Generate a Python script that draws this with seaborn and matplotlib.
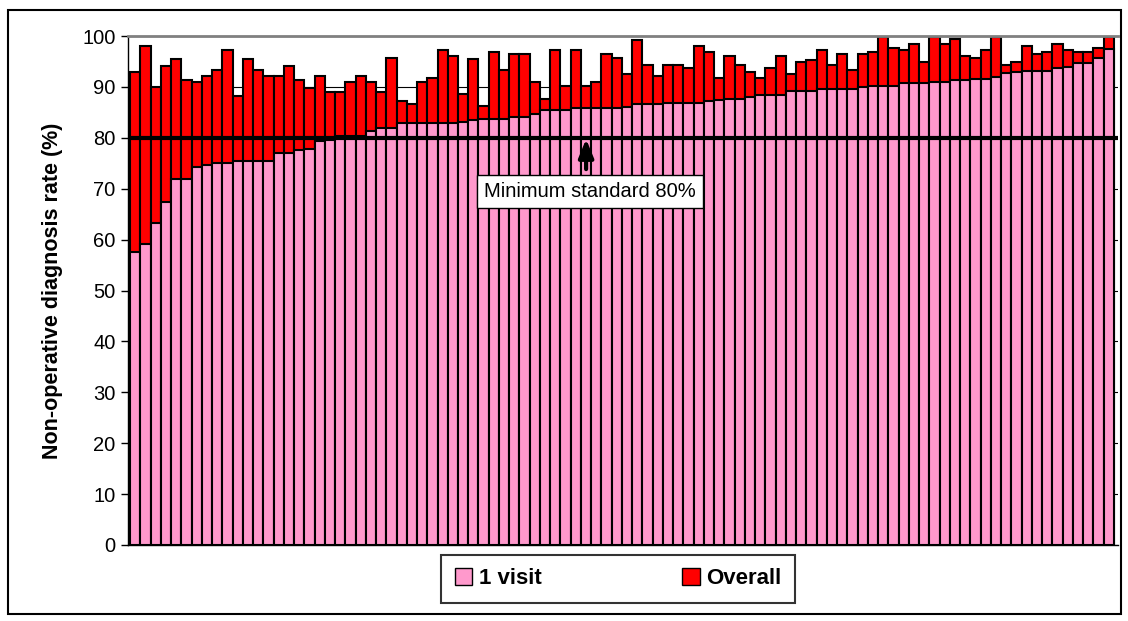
import numpy as np
import pandas as pd
import seaborn as sns
import matplotlib.pyplot as plt
from matplotlib.patches import Rectangle, Patch

sns.set_style('white')
plt.rcParams['font.family'] = ['Liberation Sans', 'DejaVu Sans']
plt.rcParams['text.color'] = 'black'
plt.rcParams['axes.labelcolor'] = 'black'
plt.rcParams['ytick.color'] = 'black'

# 1 visit rate per unit (%), sorted ascending
visit = [57.5, 59.2, 63.3, 67.3, 72.0, 72.0, 74.3, 74.7, 75.1, 75.1,
         75.5, 75.5, 75.5, 75.5, 77.1, 77.1, 77.6, 77.8, 79.4, 79.6,
         80.4, 80.4, 80.4, 81.4, 82.0, 82.0, 82.9, 82.9, 82.9, 82.9,
         82.9, 82.9, 83.2, 83.5, 83.7, 83.7, 83.7, 84.1, 84.1, 84.6,
         85.4, 85.4, 85.4, 85.8, 85.8, 85.8, 85.8, 85.9, 86.1, 86.6,
         86.6, 86.6, 86.9, 86.9, 86.9, 86.9, 87.3, 87.4, 87.6, 87.6,
         88.1, 88.4, 88.4, 88.4, 89.2, 89.2, 89.2, 89.5, 89.5, 89.5,
         89.5, 90.0, 90.2, 90.2, 90.2, 90.8, 90.8, 90.8, 91.0, 91.0,
         91.3, 91.3, 91.6, 91.6, 92.0, 92.7, 92.9, 93.1, 93.1, 93.1,
         93.7, 94.0, 94.7, 94.7, 95.6, 97.5]

# overall rate per unit (%)
overall = [92.9, 98.0, 89.9, 94.1, 95.4, 91.3, 90.9, 92.2, 93.3, 97.2,
           88.2, 95.4, 93.3, 92.1, 92.1, 94.1, 91.3, 89.7, 92.1, 88.9,
           88.9, 90.9, 92.1, 90.9, 88.9, 95.6, 87.3, 86.6, 90.9, 91.8,
           97.3, 96.0, 88.6, 95.4, 86.2, 96.8, 93.3, 96.4, 96.4, 90.9,
           87.6, 97.3, 90.1, 97.3, 90.1, 90.9, 96.4, 95.6, 92.5, 99.2,
           94.4, 92.1, 94.4, 94.4, 93.7, 98.0, 96.8, 91.7, 96.0, 94.4,
           92.9, 91.7, 93.7, 96.0, 92.5, 94.8, 95.2, 97.3, 94.4, 96.4,
           93.3, 96.4, 96.8, 99.9, 97.6, 97.2, 98.4, 94.8, 99.9, 98.4,
           99.5, 96.0, 95.6, 97.2, 99.9, 94.4, 94.8, 98.0, 96.4, 96.8,
           98.4, 97.2, 96.8, 96.8, 97.6, 99.9]

standard = 80
yticks = list(range(0, 101, 10))

df = pd.DataFrame({'unit': np.arange(len(visit)), 'visit': visit, 'overall': overall})

PINK = '#FF99CC'
RED = '#FF0000'

fig = plt.figure(figsize=(11.28, 6.21), dpi=100)
ax = fig.add_axes([128 / 1128, 76 / 621, 990 / 1128, 509 / 621])

# overlapping bars: overall behind, 1 visit in front
sns.barplot(data=df, x='unit', y='overall', color=RED, saturation=1, width=1.0,
            edgecolor='black', linewidth=1.5, ax=ax, zorder=2)
sns.barplot(data=df, x='unit', y='visit', color=PINK, saturation=1, width=1.0,
            edgecolor='black', linewidth=1.5, ax=ax, zorder=2)

ax.set_xlim(-0.7, len(visit) - 0.1)
ax.set_ylim(0, 100)
ax.set_yticks(yticks)
ax.set_xticks([])
ax.set_xlabel('')
ax.set_ylabel('Non-operative diagnosis rate (%)', fontsize=15.5, fontweight='bold', labelpad=14)
ax.tick_params(axis='y', labelsize=14.5, direction='out', length=5, width=1, left=True, pad=4,
               colors='black')

ax.yaxis.grid(True, color='black', linewidth=0.8, zorder=0)
ax.set_axisbelow(True)
for s in ['left', 'bottom']:
    ax.spines[s].set_color('black')
    ax.spines[s].set_linewidth(1)
ax.spines['right'].set_visible(False)
ax.spines['top'].set_color('#808080')
ax.spines['top'].set_linewidth(2)

# minimum standard line + annotation
ax.axhline(standard, color='black', linewidth=3, zorder=4)
ax.annotate('', xy=(44, standard + 0.3), xytext=(44, 73.3),
            arrowprops=dict(arrowstyle='-|>,head_length=1.1,head_width=0.45',
                            color='black', lw=3), zorder=5)
ax.text(44.4, 69.4, 'Minimum standard 80%', ha='center', va='center', fontsize=14.5,
        color='black',
        bbox=dict(boxstyle='square,pad=0.35', fc='white', ec='black', lw=1), zorder=6)

handles = [Patch(facecolor=PINK, edgecolor='black', linewidth=1),
           Patch(facecolor=RED, edgecolor='black', linewidth=1)]
leg = fig.legend(handles, ['1 visit', 'Overall'], loc='center', bbox_to_anchor=(0.548, 0.068),
                 ncol=2, frameon=True, fancybox=False, edgecolor='black',
                 prop={'weight': 'bold', 'size': 16}, handlelength=0.8, handleheight=0.8,
                 handletextpad=0.3, columnspacing=6.3, borderpad=0.6, borderaxespad=0)
leg.get_frame().set_linewidth(1.5)
for t in leg.get_texts():
    t.set_color('black')

# outer chart border
fig.patches.append(Rectangle((8 / 1128, 7 / 621), 1113 / 1128, 604 / 621, transform=fig.transFigure,
                             fill=False, edgecolor='black', linewidth=1.5))

fig.savefig('out.png', dpi=100)
